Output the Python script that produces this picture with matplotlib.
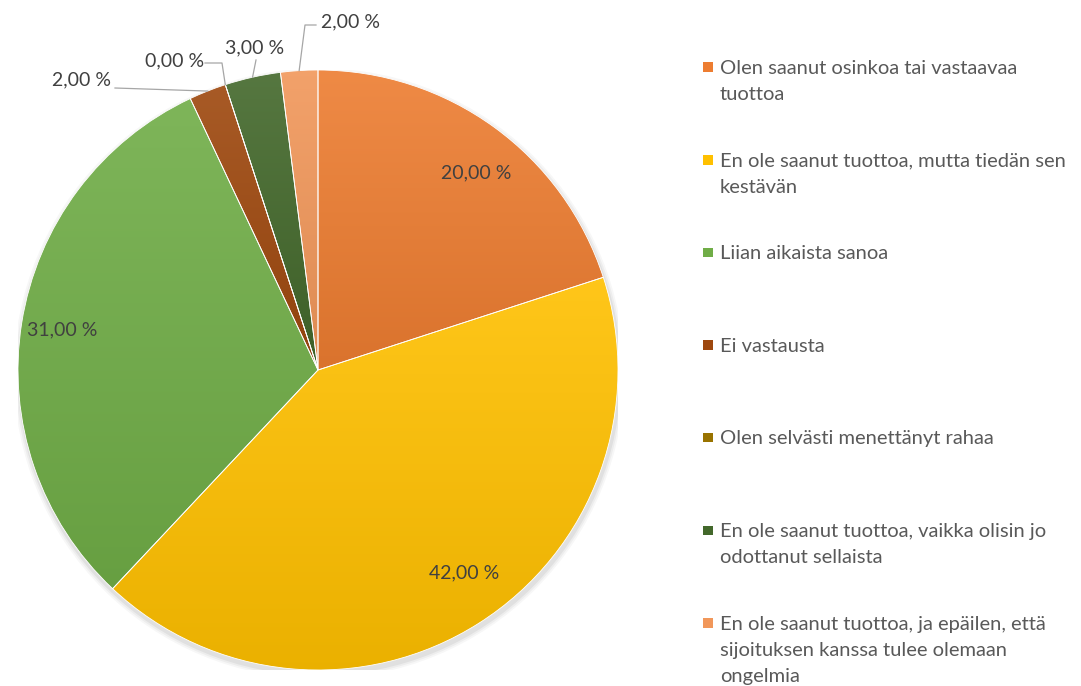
import numpy as np
import matplotlib
matplotlib.use("Agg")
import matplotlib.pyplot as plt
from matplotlib.patches import Rectangle, Circle
from matplotlib.colors import to_rgb

categories = [
    "Olen saanut osinkoa tai vastaavaa\ntuottoa",
    "En ole saanut tuottoa, mutta tiedän sen\nkestävän",
    "Liian aikaista sanoa",
    "Ei vastausta",
    "Olen selvästi menettänyt rahaa",
    "En ole saanut tuottoa, vaikka olisin jo\nodottanut sellaista",
    "En ole saanut tuottoa, ja epäilen, että\nsijoituksen kanssa tulee olemaan\nongelmia",
]
values = [20.0, 42.0, 31.0, 2.0, 0.0, 3.0, 2.0]
colors = ["#ED7D31", "#FFC000", "#70AD47", "#9E480E", "#997300", "#43682B", "#F1975A"]
value_labels = ["20,00 %", "42,00 %", "31,00 %", "2,00 %", "0,00 %", "3,00 %", "2,00 %"]

TEXT = "#595959"
FONT = ["Lato", "DejaVu Sans"]

W, H = 1081, 686
fig = plt.figure(figsize=(W / 100, H / 100), dpi=100)
cx, cy, R = 318, 370, 300
ax = fig.add_axes([(cx - R) / W, (H - cy - R) / H, 2 * R / W, 2 * R / H])
ax.axis("off")

# soft shadow
for i, a in enumerate([0.05, 0.04, 0.03]):
    ax.add_patch(Circle((0.004, -0.012), 1.0 + 0.006 * (i + 1), color="#000000",
                        alpha=a, lw=0, zorder=0))

wedges, _ = ax.pie(values, colors=colors, startangle=90, counterclock=False,
                   radius=1.0, wedgeprops=dict(linewidth=0.6, edgecolor="#ffffff"))


def mix(c, t, amt):
    c = np.array(to_rgb(c)); t = np.array(to_rgb(t))
    return c + (t - c) * amt


# gradient fill per wedge
for w, c in zip(wedges, colors):
    if w.theta2 - w.theta1 <= 0:
        continue
    bb = w.get_path().get_extents()
    top = mix(c, "#ffffff", 0.10)
    bot = mix(c, "#000000", 0.08)
    t = np.linspace(0, 1, 256)[:, None]
    grad = top[None, :] * (1 - t) + bot[None, :] * t
    img = np.repeat(grad[:, None, :], 2, axis=1)
    im = ax.imshow(img, extent=[bb.x0, bb.x1, bb.y0, bb.y1], origin="upper",
                   aspect="auto", zorder=w.get_zorder() + 0.1, interpolation="bilinear")
    im.set_clip_path(w)

ax.set_xlim(-1, 1)
ax.set_ylim(-1, 1)
ax.set_aspect("equal")

for w in wedges:
    w.set_facecolor("none")
    w.set_zorder(3)

# inside labels for large slices (radius, angle nudge in degrees)
inside_pos = {0: (0.843, -2.8), 1: (0.833, 3.3), 2: (0.862, 0.0)}
for i, (r, nudge) in inside_pos.items():
    w = wedges[i]
    mid = np.deg2rad((w.theta1 + w.theta2) / 2 + nudge)
    ax.text(r * np.cos(mid), r * np.sin(mid), value_labels[i], ha="center",
            va="center", fontsize=14, color="#404040", family=FONT, zorder=5)

# outside labels with leader lines (offsets in pixels from pie center)
outside = {
    3: dict(text=(-266, 290), path=[(-203, 282)]),
    4: dict(text=(-173, 309), path=[(-113, 307), (-96, 307)]),
    5: dict(text=(-93, 322), path=[(-62, 310)]),
    6: dict(text=(3, 348), path=[(-2, 345), (-13, 345)]),
}
for i, spec in outside.items():
    w = wedges[i]
    mid = np.deg2rad((w.theta1 + w.theta2) / 2)
    tx, ty = spec["text"]
    pts = [(x / R, y / R) for x, y in spec["path"]]
    xs = [p[0] for p in pts] + [np.cos(mid)]
    ys = [p[1] for p in pts] + [np.sin(mid)]
    ax.plot(xs, ys, color="#a6a6a6", lw=0.9, zorder=4, clip_on=False)
    ax.text(tx / R, ty / R, value_labels[i], ha="left", va="center", fontsize=14,
            color="#404040", family=FONT, zorder=5, clip_on=False)

# legend
y0, step, pitch = 67, 92.6, 26.3
for i, (lab, c) in enumerate(zip(categories, colors)):
    yc = y0 + step * i
    fig.patches.append(Rectangle((703 / W, (H - yc - 5) / H), 9.5 / W, 9.5 / H,
                                 transform=fig.transFigure, facecolor=c, edgecolor="none"))
    for k, line in enumerate(lab.split("\n")):
        fig.text(720 / W, (H - yc - k * pitch) / H, line, ha="left", va="center_baseline",
                 fontsize=14.5, color=TEXT, family=FONT)

fig.savefig("out.png", dpi=100)
